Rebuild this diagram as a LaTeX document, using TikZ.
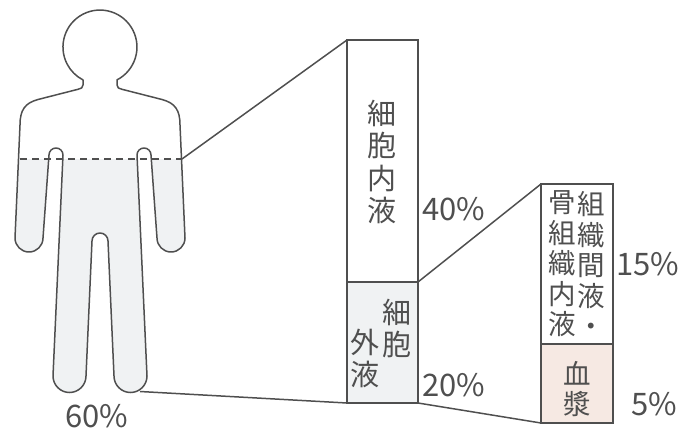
\documentclass[tikz,border=0pt]{standalone}
\usepackage{fontspec}
\newfontfamily\cjk{Noto Sans CJK JP}
\definecolor{inkgray}{HTML}{4F4F4F}
\definecolor{fluidgray}{HTML}{F0F2F3}
\definecolor{plasmapink}{HTML}{F6E9E3}
\begin{document}
\begin{tikzpicture}[x=1pt,y=-1pt,
  ink/.style={draw=inkgray, line width=1.5pt},
  box/.style={ink, inner sep=0pt, outer sep=0pt},
  vtxt/.style={align=center, inner sep=0pt, text=inkgray,
    font=\cjk\fontsize{29}{32.5}\selectfont},
  vsmall/.style={align=center, inner sep=0pt, text=inkgray,
    font=\cjk\fontsize{27.5}{30.5}\selectfont},
  pct/.style={anchor=west, inner sep=0pt, text=inkgray,
    font=\cjk\fontsize{31}{33}\selectfont},
  silhouette/.style={insert path={
    (83,79.9) -- (83,85) .. controls (83,88) and (81,88.5) .. (78,89.3)
    -- (38,99.5) .. controls (25,103) and (20,110) .. (20,125)
    -- (15,238) arc[start angle=180,end angle=0,radius=14]
    -- (49,155) arc[start angle=180,end angle=360,radius=7]
    -- (53,376) arc[start angle=180,end angle=0,radius=16.5]
    -- (92,241) arc[start angle=180,end angle=360,radius=8]
    -- (114,376) arc[start angle=180,end angle=0,radius=16.5]
    -- (137,155) arc[start angle=180,end angle=360,radius=7]
    -- (157,238) arc[start angle=180,end angle=0,radius=14]
    -- (180,125) .. controls (180,110) and (175,103) .. (162,99.5)
    -- (122,89.3) .. controls (119,88.5) and (117,88) .. (117,85)
    -- (117,79.9) arc[start angle=62.6,end angle=-242.6,radius=37] -- cycle}}
]
\useasboundingbox (0,0) rectangle (679,433);

% body: water below the waist line is shaded
\begin{scope}
  \clip (0,159) rectangle (679,433);
  \fill[fluidgray, silhouette];
\end{scope}
\draw[ink, line join=round, silhouette];
\coordinate (waistL) at (20,159);
\coordinate (waist) at (182,159);
\coordinate (foot) at (140,391.5);
\draw[ink, dash pattern=on 7pt off 5pt] (waistL) -- (waist);
\node[pct, anchor=center] (total) at (97,416) {60\%};

% body water column
\node[box, minimum width=71pt, minimum height=242pt] (icf) at (382.5,161) {};
\node[box, fill=fluidgray, minimum width=71pt, minimum height=121pt] (ecf) at (382.5,342.5) {};
\node[vtxt] (icfT) at (382,162) {細\\胞\\内\\液};
\node[vtxt] (ecfA) at (397,328.5) {細\\胞};
\node[vtxt] (ecfB) at (365,358.5) {外\\液};
\node[pct] (p40) at (422,209) {40\%};
\node[pct] (p20) at (422,385.5) {20\%};

% extracellular fluid column
\node[box, minimum width=72pt, minimum height=160pt] (isf) at (577,264) {};
\node[box, fill=plasmapink, minimum width=72pt, minimum height=79pt] (plasma) at (577,383.5) {};
\node[vsmall] (isfA) at (591,264) {組\\織\\間\\液\\・};
\node[vsmall] (isfB) at (562,264) {骨\\組\\織\\内\\液};
\node[vsmall] (plasmaT) at (577,389) {血\\漿};
\node[pct] (p15) at (616,264) {15\%};
\node[pct] (p5) at (631,404) {5\%};

% connectors
\draw[ink] (waist) -- (icf.north west);
\draw[ink] (foot) -- (ecf.south west);
\draw[ink] (icf.south east) -- (isf.north west);
\draw[ink] (ecf.south east) -- (plasma.south west);
\end{tikzpicture}
\end{document}
